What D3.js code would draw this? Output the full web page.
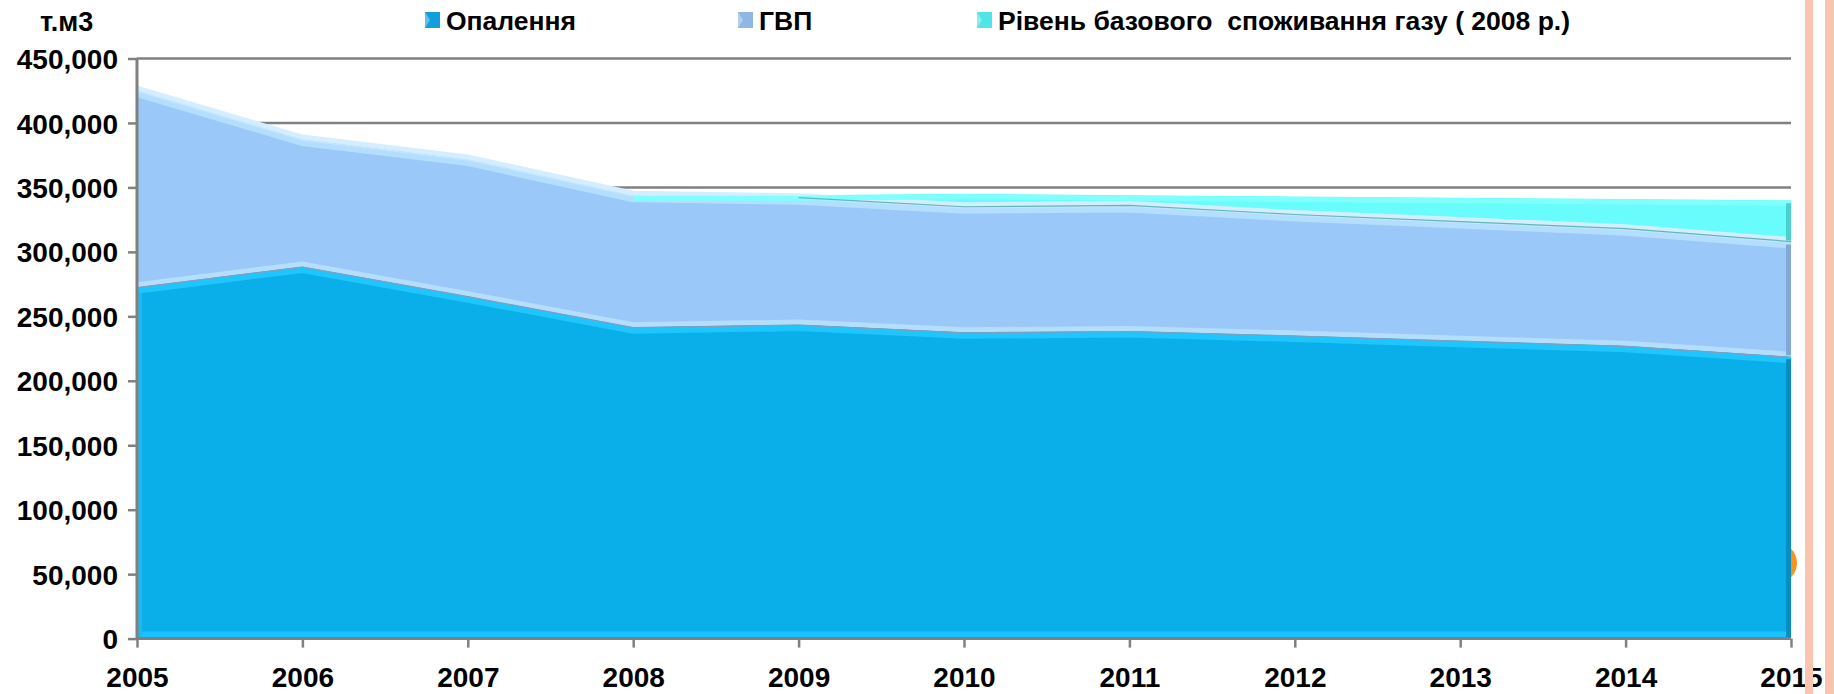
<!DOCTYPE html>
<html>
<head>
<meta charset="utf-8">
<script src="https://cdn.jsdelivr.net/npm/d3@7"></script>
<style>
  body { margin: 0; background: #fff; }
  svg text { font-family: "Liberation Sans", Arial, sans-serif; font-weight: bold; fill: #000; }
</style>
</head>
<body>
<svg id="chart" width="1834" height="694"></svg>
<script>
// data (тис. м3)
const years = [2005, 2006, 2007, 2008, 2009, 2010, 2011, 2012, 2013, 2014, 2015];
const heating = [273000, 289000, 266000, 242000, 244000, 238000, 239000, 235500, 231500, 227500, 219000];
const hotWater = [152500, 98500, 106000, 102000, 98000, 97000, 97000, 93500, 92000, 90500, 89000];
const baseGap = [0, 0, 0, 0, 2000, 10000, 8000, 14000, 18500, 23000, 32000];
const seriesNames = ["Опалення", "ГВП", "Рівень базового  споживання газу ( 2008 р.)"];
const yTicks = [0, 50000, 100000, 150000, 200000, 250000, 300000, 350000, 400000, 450000];
const gridTicks = [350000, 400000, 450000];

const colors = ["#0aaee9", "#9ac8f8", "#68fcfc"];
const topLight = ["#1ec6ff", "#b4defd", "#80ffff"];
const rightEdge = ["#0b8cbe", "#82a8d4", "#4ccfcf"];
const legendCols = ["#109fdc", "#8fb6e4", "#4fe4e6"];

const svg = d3.select("#chart");

const x = d3.scaleLinear().domain([2005, 2015]).range([137, 1791]);
const y = d3.scaleLinear().domain([0, 450000]).range([638.6, 58.5]);

const table = years.map((yr, i) => ({ year: yr, heat: heating[i], hw: hotWater[i], gap: baseGap[i] }));
const keys = ["heat", "hw", "gap"];
const stacked = d3.stack().keys(keys)(table);

// gridlines behind
svg.append("g").selectAll("line")
  .data(gridTicks).enter().append("line")
  .attr("x1", x(2005)).attr("x2", x(2015))
  .attr("y1", d => y(d)).attr("y2", d => y(d))
  .attr("stroke", "#808080").attr("stroke-width", 2.5);

// orange circle peeking from behind the plot
svg.append("circle")
  .attr("cx", 1777).attr("cy", 563).attr("r", 20)
  .attr("fill", "#f7941d");

const area = d3.area()
  .x(d => x(d.data.year))
  .y0(d => y(d[0]))
  .y1(d => y(d[1]));

const topLine = d3.line()
  .x(d => x(d.data.year))
  .y(d => y(d[1]));

const gArea = svg.append("g");

stacked.forEach((s, i) => {
  gArea.append("path")
    .datum(s)
    .attr("d", area)
    .attr("fill", colors[i]);
});

// bevel highlights along the top of each layer
stacked.forEach((s, i) => {
  if (i === 2) {
    // cyan only exists from 2008 on
    const part = s.filter(d => d.data.year >= 2008);
    gArea.append("path").datum(part).attr("d", topLine)
      .attr("fill", "none").attr("stroke", topLight[i]).attr("stroke-width", 5)
      .attr("transform", "translate(0,3)");
    return;
  }
  gArea.append("path").datum(s).attr("d", topLine)
    .attr("fill", "none").attr("stroke", topLight[i]).attr("stroke-width", 6)
    .attr("transform", "translate(0,4)");
  gArea.append("path").datum(s).attr("d", topLine)
    .attr("fill", "none").attr("stroke", i === 0 ? "#b6defc" : "#d4eeff").attr("stroke-width", 5)
    .attr("transform", "translate(0,-2)");
  gArea.append("path").datum(s).attr("d", topLine)
    .attr("fill", "none").attr("stroke", i === 0 ? "#7f9fbf" : "#c6e6ff").attr("stroke-width", 1.2)
    .attr("transform", "translate(0,1)");
});

// line between ГВП and cyan where the cyan layer shows
gArea.append("path").datum(stacked[1].filter(d => d.data.year >= 2009))
  .attr("d", topLine).attr("fill", "none")
  .attr("stroke", "#5fb8b8").attr("stroke-width", 1.2);

// bottom glow and left edge of heating
gArea.append("line")
  .attr("x1", x(2005)).attr("x2", x(2015))
  .attr("y1", y(0) - 4).attr("y2", y(0) - 4)
  .attr("stroke", "#18c2ff").attr("stroke-width", 6);
gArea.append("line")
  .attr("x1", x(2005) + 3).attr("x2", x(2005) + 3)
  .attr("y1", y(heating[0]) + 6).attr("y2", y(0))
  .attr("stroke", "#20b8f0").attr("stroke-width", 4);

// darker right edge of each layer
stacked.forEach((s, i) => {
  const last = s[s.length - 1];
  gArea.append("rect")
    .attr("x", x(2015) - 5).attr("width", 5)
    .attr("y", y(last[1]) + 3)
    .attr("height", Math.max(0, y(last[0]) - y(last[1]) - 4))
    .attr("fill", rightEdge[i]);
});

// axes
const yAxis = svg.append("g")
  .attr("transform", `translate(${x(2005)},0)`)
  .call(d3.axisLeft(y).tickValues(yTicks).tickFormat(d3.format(",")).tickSize(9).tickPadding(10));
const xAxis = svg.append("g")
  .attr("transform", `translate(0,${y(0)})`)
  .call(d3.axisBottom(x).tickValues(years).tickFormat(d => d).tickSize(9).tickPadding(20));

[yAxis, xAxis].forEach(a => {
  a.select(".domain").attr("stroke", "#808080").attr("stroke-width", 3);
  a.selectAll(".tick line").attr("stroke", "#808080").attr("stroke-width", 2.5);
  a.selectAll(".tick text").attr("font-size", 28).attr("fill", "#000")
    .style("font-family", "'Liberation Sans', Arial, sans-serif").style("font-weight", "bold");
});
yAxis.select(".domain").attr("d", `M0,${y(0)}V${y(450000)}`);
xAxis.select(".domain").attr("d", `M${x(2005)},0H${x(2015)}`);
yAxis.selectAll(".tick text").attr("dy", "0.36em");

// unit label
svg.append("text")
  .attr("x", 40).attr("y", 31)
  .attr("font-size", 27)
  .text("т.м3");

// legend
const legendX = [425, 738, 977];
const leg = svg.append("g").selectAll("g")
  .data(seriesNames).enter().append("g")
  .attr("transform", (d, i) => `translate(${legendX[i]},12)`);
leg.append("rect")
  .attr("width", 15).attr("height", 16)
  .attr("fill", (d, i) => legendCols[i]);
leg.append("path")
  .attr("d", "M0,0L5,8L0,16Z")
  .attr("fill", "#ffffff").attr("opacity", 0.35);
leg.append("text")
  .attr("x", 21).attr("y", 18)
  .attr("font-size", 26.5)
  .style("white-space", "pre")
  .text(d => d);

// decorative stripes at right edge
svg.append("rect").attr("x", 1805).attr("y", 0).attr("width", 8).attr("height", 694).attr("fill", "#fac4ae");
svg.append("rect").attr("x", 1825).attr("y", 0).attr("width", 9).attr("height", 694).attr("fill", "#fac4ae");
</script>
</body>
</html>
